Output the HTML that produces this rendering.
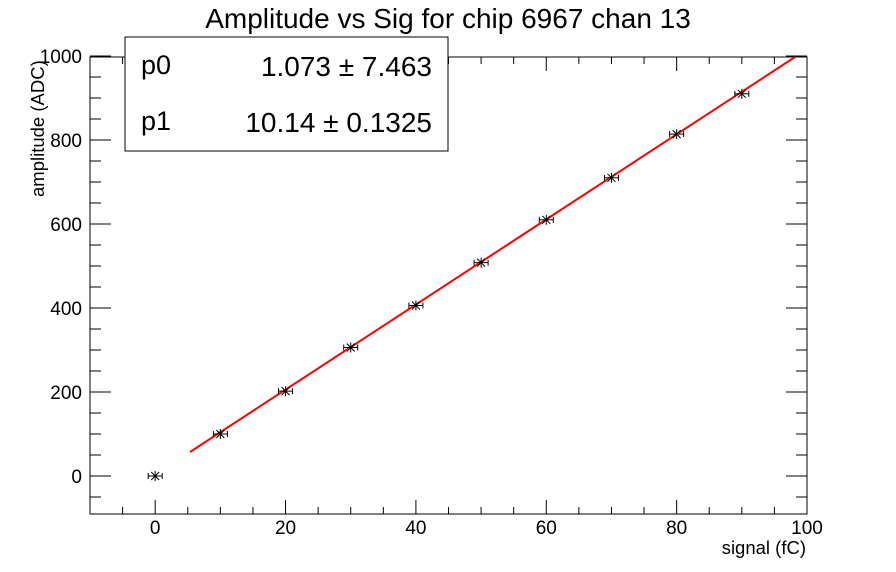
<!DOCTYPE html>
<html><head><style>body{margin:0;background:#fff}svg{display:block}text{font-family:"Liberation Sans",sans-serif}</style></head><body>
<svg width="896" height="572" viewBox="0 0 896 572" xmlns="http://www.w3.org/2000/svg">
<rect x="0" y="0" width="896" height="572" fill="#fff"/>
<text x="448" y="28" font-size="28" text-anchor="middle">Amplitude vs Sig for chip 6967 chan 13</text>
<rect x="90" y="57" width="717" height="457" fill="none" stroke="#000" stroke-width="1"/>
<g stroke="#000" stroke-width="1" id="ticks"></g>
<g font-size="19" text-anchor="middle" id="xl"></g>
<g font-size="19" text-anchor="end" id="yl"></g>
<text x="806" y="554" font-size="18.5" text-anchor="end">signal (fC)</text>
<text transform="translate(44,197) rotate(-90)" font-size="18.5" text-anchor="start">amplitude (ADC)</text>
<line x1="190" y1="452" x2="795" y2="57" stroke="#f00" stroke-width="2"/>
<g stroke="#000" stroke-width="1" id="pts"></g>
<rect x="125" y="37" width="323" height="114" fill="#fff" stroke="#000" stroke-width="1"/>
<text x="141" y="74" font-size="27">p0</text>
<text x="432" y="76" font-size="28" text-anchor="end">1.073 ± 7.463</text>
<text x="141" y="130" font-size="27">p1</text>
<text x="432" y="132" font-size="28" text-anchor="end">10.14 ± 0.1325</text>
<script>
const ns="http://www.w3.org/2000/svg";
const X=v=>90+(v+10)*717/110, Y=v=>476-v*0.42;
function L(g,a,b,c,d){const e=document.createElementNS(ns,"line");e.setAttribute("x1",a);e.setAttribute("y1",b);e.setAttribute("x2",c);e.setAttribute("y2",d);g.appendChild(e);}
function T(g,x,y,s){const e=document.createElementNS(ns,"text");e.setAttribute("x",x);e.setAttribute("y",y);e.textContent=s;g.appendChild(e);}
const tk=document.getElementById("ticks"),xl=document.getElementById("xl"),yl=document.getElementById("yl");
for(let v=-10;v<=100;v+=5){const x=X(v),m=v%20==0;const h=m?14:7;L(tk,x,514,x,514-h);L(tk,x,57,x,57+h);if(m&&v>=0)T(xl,x,534,v);}
for(let v=-50;v<=1000;v+=50){const y=Y(v);if(y>514||y<56)continue;const m=v%200==0;const h=m?21:11;L(tk,90,y,90+h,y);L(tk,807,y,807-h,y);if(m)T(yl,82,y+7,v);}
const pts=[[0,0],[10,100],[20,202],[30,306],[40,406],[50,508],[60,610],[70,710],[80,814],[90,910]];
const pg=document.getElementById("pts");
for(const [a,b] of pts){const x=X(a),y=Y(b);L(pg,x-7,y,x+7,y);L(pg,x-7,y-3,x-7,y+3);L(pg,x+7,y-3,x+7,y+3);L(pg,x,y-5,x,y+5);L(pg,x-4,y-4,x+4,y+4);L(pg,x-4,y+4,x+4,y-4);}
</script>
</svg>
</body></html>
